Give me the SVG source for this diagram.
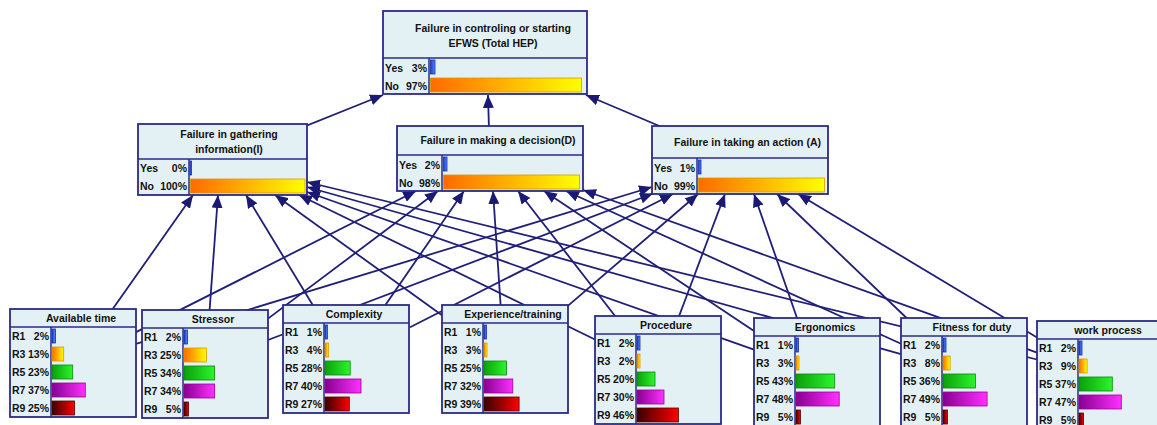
<svg xmlns="http://www.w3.org/2000/svg" width="1157" height="425" viewBox="0 0 1157 425">
  <defs>
    <style>
      .box { fill: #e4f1f4; stroke: #2a2a88; stroke-width: 1.8; }
      .sep { stroke: #2a2a88; stroke-width: 1.5; }
      .t { font-family: "Liberation Sans", Arial, sans-serif; font-weight: bold; font-size: 10.5px; fill: #111; }
      .mid { text-anchor: middle; }
      .end { text-anchor: end; }
      .link { stroke: #1f1f78; stroke-width: 1.8; fill: none; marker-end: url(#arrow); }
      .b1 { fill: url(#gBlue); stroke: #1a2fa8; stroke-width: 0.8; }
      .b3 { fill: url(#gOrange); stroke: #d89a00; stroke-width: 0.8; }
      .b5 { fill: url(#gGreen); stroke: #0a860a; stroke-width: 0.8; }
      .b7 { fill: url(#gMagenta); stroke: #9a009a; stroke-width: 0.8; }
      .b9 { fill: url(#gRed); stroke: #5a0000; stroke-width: 0.8; }
    </style>
    <marker id="arrow" markerUnits="userSpaceOnUse" markerWidth="13" markerHeight="11" viewBox="0 0 13 11" refX="13" refY="5.5" orient="auto">
      <path d="M0,0 L13,5.5 L0,11 z" fill="#1a1a74"/>
    </marker>
    <linearGradient id="gBlue" x1="0" y1="0" x2="1" y2="0">
      <stop offset="0" stop-color="#1e3cc8"/><stop offset="1" stop-color="#4c8cff"/>
    </linearGradient>
    <linearGradient id="gOrange" x1="0" y1="0" x2="1" y2="0">
      <stop offset="0" stop-color="#ff6a00"/><stop offset="1" stop-color="#ffff00"/>
    </linearGradient>
    <linearGradient id="gGreen" x1="0" y1="0" x2="1" y2="0">
      <stop offset="0" stop-color="#0aa00a"/><stop offset="1" stop-color="#2cf52c"/>
    </linearGradient>
    <linearGradient id="gMagenta" x1="0" y1="0" x2="1" y2="0">
      <stop offset="0" stop-color="#860090"/><stop offset="1" stop-color="#ff30ff"/>
    </linearGradient>
    <linearGradient id="gRed" x1="0" y1="0" x2="1" y2="0">
      <stop offset="0" stop-color="#380000"/><stop offset="1" stop-color="#ff0000"/>
    </linearGradient>
  </defs>

  <rect width="1157" height="425" fill="#ffffff"/>

  <!-- links: drawn first so the nodes sit on top of them -->
  <g id="connectors">
    <!-- into the total HEP node -->
    <line class="link" x1="222.5" y1="159.5" x2="383" y2="95"/>
    <line class="link" x1="489" y1="130" x2="488" y2="95"/>
    <line class="link" x1="740" y1="160" x2="586" y2="95"/>
    <!-- into information gathering -->
    <line class="link" x1="112.7" y1="309" x2="193" y2="195"/>
    <line class="link" x1="209.6" y1="310" x2="218" y2="195"/>
    <line class="link" x1="312.7" y1="305" x2="246" y2="195"/>
    <line class="link" x1="442" y1="315.2" x2="275" y2="195"/>
    <line class="link" x1="595" y1="339.5" x2="299" y2="195"/>
    <line class="link" x1="754" y1="349.6" x2="307" y2="192"/>
    <line class="link" x1="901" y1="354.1" x2="307" y2="187"/>
    <line class="link" x1="1037" y1="359.5" x2="307" y2="182"/>
    <!-- into decision making -->
    <line class="link" x1="136" y1="332.1" x2="416" y2="191"/>
    <line class="link" x1="268" y1="318.6" x2="438" y2="191"/>
    <line class="link" x1="385.4" y1="305" x2="464" y2="191"/>
    <line class="link" x1="500.6" y1="305" x2="493" y2="191"/>
    <line class="link" x1="615.1" y1="316" x2="518" y2="191"/>
    <line class="link" x1="754" y1="331.1" x2="544" y2="191"/>
    <line class="link" x1="901" y1="343.8" x2="566" y2="191"/>
    <line class="link" x1="1037" y1="352.6" x2="583" y2="190"/>
    <!-- into action taking -->
    <line class="link" x1="136" y1="343.8" x2="652" y2="187"/>
    <line class="link" x1="268" y1="340" x2="653" y2="193.5"/>
    <line class="link" x1="410" y1="327.3" x2="673" y2="194"/>
    <line class="link" x1="567" y1="306.6" x2="698" y2="194"/>
    <line class="link" x1="679.1" y1="316" x2="725" y2="194"/>
    <line class="link" x1="797" y1="318" x2="754" y2="194"/>
    <line class="link" x1="906.6" y1="318" x2="777" y2="194"/>
    <line class="link" x1="1037" y1="337.4" x2="798" y2="194"/>
  </g>

  <!-- top node -->
  <g id="node-total-hep">
    <rect class="box" x="383" y="11" width="204" height="83"/>
    <line class="sep" x1="383" y1="58" x2="587" y2="58"/>
    <line class="sep" x1="429" y1="58" x2="429" y2="94"/>
    <text class="t mid" x="493" y="32">Failure in controling or starting</text>
    <text class="t mid" x="493" y="47">EFWS (Total HEP)</text>
    <text class="t" x="385" y="71.5">Yes</text><text class="t end" x="427" y="71.5">3%</text>
    <text class="t" x="385" y="89.5">No</text><text class="t end" x="427" y="89.5">97%</text>
    <rect class="b1" x="430.5" y="60" width="4.5" height="14"/>
    <rect class="b3" x="430.5" y="78" width="151" height="14"/>
  </g>

  <!-- middle layer -->
  <g id="node-information">
    <rect class="box" x="138" y="124" width="169" height="71"/>
    <line class="sep" x1="138" y1="159" x2="307" y2="159"/>
    <line class="sep" x1="189" y1="159" x2="189" y2="195"/>
    <text class="t mid" x="229" y="138">Failure in gathering</text>
    <text class="t mid" x="229" y="153">information(I)</text>
    <text class="t" x="140" y="172">Yes</text><text class="t end" x="187" y="172">0%</text>
    <text class="t" x="140" y="190">No</text><text class="t end" x="187" y="190">100%</text>
    <rect class="b1" x="190" y="161" width="1.5" height="14"/>
    <rect class="b3" x="190.5" y="179" width="114.5" height="14"/>
  </g>

  <g id="node-decision">
    <rect class="box" x="397" y="126" width="186" height="65"/>
    <line class="sep" x1="397" y1="155" x2="583" y2="155"/>
    <line class="sep" x1="442" y1="155" x2="442" y2="191"/>
    <text class="t mid" x="498" y="144">Failure in making a decision(D)</text>
    <text class="t" x="399" y="168.5">Yes</text><text class="t end" x="440" y="168.5">2%</text>
    <text class="t" x="399" y="186.5">No</text><text class="t end" x="440" y="186.5">98%</text>
    <rect class="b1" x="443.5" y="157" width="3.5" height="14"/>
    <rect class="b3" x="443.5" y="175" width="136" height="14"/>
  </g>

  <g id="node-action">
    <rect class="box" x="652" y="126" width="176" height="68"/>
    <line class="sep" x1="652" y1="158" x2="828" y2="158"/>
    <line class="sep" x1="697" y1="158" x2="697" y2="194"/>
    <text class="t mid" x="747.5" y="146">Failure in taking an action (A)</text>
    <text class="t" x="654" y="171.5">Yes</text><text class="t end" x="695" y="171.5">1%</text>
    <text class="t" x="654" y="189.5">No</text><text class="t end" x="695" y="189.5">99%</text>
    <rect class="b1" x="698.5" y="160" width="2.5" height="14"/>
    <rect class="b3" x="698.5" y="178" width="126" height="14"/>
  </g>

  <!-- bottom layer: performance shaping factors -->
  <g id="node-available-time">
    <rect class="box" x="10" y="309" width="126" height="108"/>
    <line class="sep" x1="10" y1="327" x2="136" y2="327"/>
    <line class="sep" x1="51" y1="327" x2="51" y2="417"/>
    <text class="t mid" x="81" y="322">Available time</text>
    <text class="t" x="12" y="340">R1</text><text class="t end" x="49" y="340">2%</text>
    <text class="t" x="12" y="358">R3</text><text class="t end" x="49" y="358">13%</text>
    <text class="t" x="12" y="376">R5</text><text class="t end" x="49" y="376">23%</text>
    <text class="t" x="12" y="394">R7</text><text class="t end" x="49" y="394">37%</text>
    <text class="t" x="12" y="412">R9</text><text class="t end" x="49" y="412">25%</text>
    <rect class="b1" x="52" y="329" width="3.5" height="14"/>
    <rect class="b3" x="52" y="347" width="11.7" height="14"/>
    <rect class="b5" x="52" y="365" width="20.7" height="14"/>
    <rect class="b7" x="52" y="383" width="33.3" height="14"/>
    <rect class="b9" x="52" y="401" width="22.5" height="14"/>
  </g>

  <g id="node-stressor">
    <rect class="box" x="142" y="310" width="126" height="108"/>
    <line class="sep" x1="142" y1="328" x2="268" y2="328"/>
    <line class="sep" x1="183" y1="328" x2="183" y2="418"/>
    <text class="t mid" x="213" y="323">Stressor</text>
    <text class="t" x="144" y="341">R1</text><text class="t end" x="181" y="341">2%</text>
    <text class="t" x="144" y="359">R3</text><text class="t end" x="181" y="359">25%</text>
    <text class="t" x="144" y="377">R5</text><text class="t end" x="181" y="377">34%</text>
    <text class="t" x="144" y="395">R7</text><text class="t end" x="181" y="395">34%</text>
    <text class="t" x="144" y="413">R9</text><text class="t end" x="181" y="413">5%</text>
    <rect class="b1" x="184" y="330" width="3.5" height="14"/>
    <rect class="b3" x="184" y="348" width="22.5" height="14"/>
    <rect class="b5" x="184" y="366" width="30.6" height="14"/>
    <rect class="b7" x="184" y="384" width="30.6" height="14"/>
    <rect class="b9" x="184" y="402" width="4.5" height="14"/>
  </g>

  <g id="node-complexity">
    <rect class="box" x="283" y="305" width="126" height="108"/>
    <line class="sep" x1="283" y1="323" x2="409" y2="323"/>
    <line class="sep" x1="324" y1="323" x2="324" y2="413"/>
    <text class="t mid" x="354" y="318">Complexity</text>
    <text class="t" x="285" y="336">R1</text><text class="t end" x="322" y="336">1%</text>
    <text class="t" x="285" y="354">R3</text><text class="t end" x="322" y="354">4%</text>
    <text class="t" x="285" y="372">R5</text><text class="t end" x="322" y="372">28%</text>
    <text class="t" x="285" y="390">R7</text><text class="t end" x="322" y="390">40%</text>
    <text class="t" x="285" y="408">R9</text><text class="t end" x="322" y="408">27%</text>
    <rect class="b1" x="325" y="325" width="2.5" height="14"/>
    <rect class="b3" x="325" y="343" width="3.6" height="14"/>
    <rect class="b5" x="325" y="361" width="25.2" height="14"/>
    <rect class="b7" x="325" y="379" width="36" height="14"/>
    <rect class="b9" x="325" y="397" width="24.3" height="14"/>
  </g>

  <g id="node-experience">
    <rect class="box" x="442" y="305" width="126" height="108"/>
    <line class="sep" x1="442" y1="323" x2="568" y2="323"/>
    <line class="sep" x1="483" y1="323" x2="483" y2="413"/>
    <text class="t mid" x="513" y="318">Experience/training</text>
    <text class="t" x="444" y="336">R1</text><text class="t end" x="481" y="336">1%</text>
    <text class="t" x="444" y="354">R3</text><text class="t end" x="481" y="354">3%</text>
    <text class="t" x="444" y="372">R5</text><text class="t end" x="481" y="372">25%</text>
    <text class="t" x="444" y="390">R7</text><text class="t end" x="481" y="390">32%</text>
    <text class="t" x="444" y="408">R9</text><text class="t end" x="481" y="408">39%</text>
    <rect class="b1" x="484" y="325" width="2.5" height="14"/>
    <rect class="b3" x="484" y="343" width="3" height="14"/>
    <rect class="b5" x="484" y="361" width="22.5" height="14"/>
    <rect class="b7" x="484" y="379" width="28.8" height="14"/>
    <rect class="b9" x="484" y="397" width="35.1" height="14"/>
  </g>

  <g id="node-procedure">
    <rect class="box" x="595" y="316" width="126" height="108"/>
    <line class="sep" x1="595" y1="334" x2="721" y2="334"/>
    <line class="sep" x1="636" y1="334" x2="636" y2="424"/>
    <text class="t mid" x="666" y="329">Procedure</text>
    <text class="t" x="597" y="347">R1</text><text class="t end" x="634" y="347">2%</text>
    <text class="t" x="597" y="365">R3</text><text class="t end" x="634" y="365">2%</text>
    <text class="t" x="597" y="383">R5</text><text class="t end" x="634" y="383">20%</text>
    <text class="t" x="597" y="401">R7</text><text class="t end" x="634" y="401">30%</text>
    <text class="t" x="597" y="419">R9</text><text class="t end" x="634" y="419">46%</text>
    <rect class="b1" x="637" y="336" width="3" height="14"/>
    <rect class="b3" x="637" y="354" width="3" height="14"/>
    <rect class="b5" x="637" y="372" width="18" height="14"/>
    <rect class="b7" x="637" y="390" width="27" height="14"/>
    <rect class="b9" x="637" y="408" width="41.4" height="14"/>
  </g>

  <g id="node-ergonomics">
    <rect class="box" x="754" y="318" width="126" height="108"/>
    <line class="sep" x1="754" y1="336" x2="880" y2="336"/>
    <line class="sep" x1="795" y1="336" x2="795" y2="426"/>
    <text class="t mid" x="825" y="331">Ergonomics</text>
    <text class="t" x="756" y="349">R1</text><text class="t end" x="793" y="349">1%</text>
    <text class="t" x="756" y="367">R3</text><text class="t end" x="793" y="367">3%</text>
    <text class="t" x="756" y="385">R5</text><text class="t end" x="793" y="385">43%</text>
    <text class="t" x="756" y="403">R7</text><text class="t end" x="793" y="403">48%</text>
    <text class="t" x="756" y="421">R9</text><text class="t end" x="793" y="421">5%</text>
    <rect class="b1" x="796" y="338" width="2.5" height="14"/>
    <rect class="b3" x="796" y="356" width="3" height="14"/>
    <rect class="b5" x="796" y="374" width="38.7" height="14"/>
    <rect class="b7" x="796" y="392" width="43.2" height="14"/>
    <rect class="b9" x="796" y="410" width="4.5" height="14"/>
  </g>

  <g id="node-fitness">
    <rect class="box" x="901" y="318" width="126" height="108"/>
    <line class="sep" x1="901" y1="336" x2="1027" y2="336"/>
    <line class="sep" x1="942" y1="336" x2="942" y2="426"/>
    <text class="t mid" x="972" y="331">Fitness for duty</text>
    <text class="t" x="903" y="349">R1</text><text class="t end" x="940" y="349">2%</text>
    <text class="t" x="903" y="367">R3</text><text class="t end" x="940" y="367">8%</text>
    <text class="t" x="903" y="385">R5</text><text class="t end" x="940" y="385">36%</text>
    <text class="t" x="903" y="403">R7</text><text class="t end" x="940" y="403">49%</text>
    <text class="t" x="903" y="421">R9</text><text class="t end" x="940" y="421">5%</text>
    <rect class="b1" x="943" y="338" width="3" height="14"/>
    <rect class="b3" x="943" y="356" width="7.2" height="14"/>
    <rect class="b5" x="943" y="374" width="32.4" height="14"/>
    <rect class="b7" x="943" y="392" width="44.1" height="14"/>
    <rect class="b9" x="943" y="410" width="4.5" height="14"/>
  </g>

  <g id="node-work-process">
    <rect class="box" x="1037" y="321" width="126" height="108"/>
    <line class="sep" x1="1037" y1="339" x2="1163" y2="339"/>
    <line class="sep" x1="1078" y1="339" x2="1078" y2="429"/>
    <text class="t mid" x="1108" y="334">work process</text>
    <text class="t" x="1039" y="352">R1</text><text class="t end" x="1076" y="352">2%</text>
    <text class="t" x="1039" y="370">R3</text><text class="t end" x="1076" y="370">9%</text>
    <text class="t" x="1039" y="388">R5</text><text class="t end" x="1076" y="388">37%</text>
    <text class="t" x="1039" y="406">R7</text><text class="t end" x="1076" y="406">47%</text>
    <text class="t" x="1039" y="424">R9</text><text class="t end" x="1076" y="424">5%</text>
    <rect class="b1" x="1079" y="341" width="3" height="14"/>
    <rect class="b3" x="1079" y="359" width="8.1" height="14"/>
    <rect class="b5" x="1079" y="377" width="33.3" height="14"/>
    <rect class="b7" x="1079" y="395" width="42.3" height="14"/>
    <rect class="b9" x="1079" y="413" width="4.5" height="14"/>
  </g>
</svg>
